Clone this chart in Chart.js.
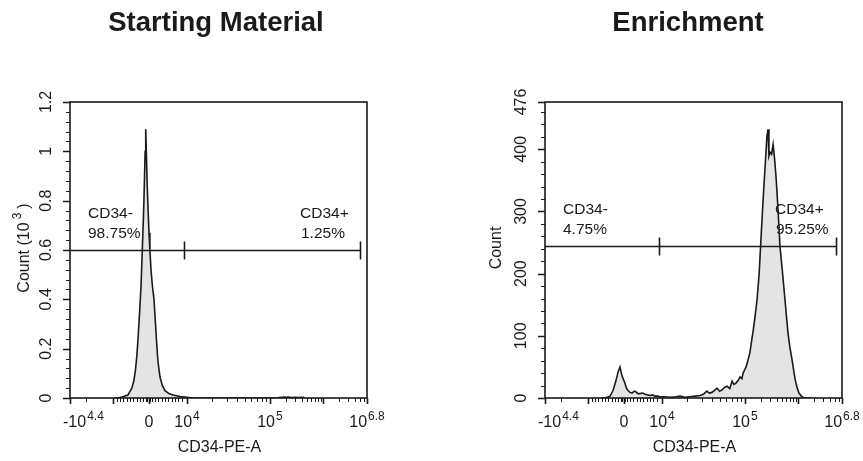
<!DOCTYPE html>
<html><head><meta charset="utf-8">
<script src="https://cdn.jsdelivr.net/npm/chart.js@4.4.0/dist/chart.umd.min.js"></script>
<style>
html,body{margin:0;padding:0;background:#fff;}
#wrap{position:relative;width:863px;height:461px;overflow:hidden;background:#fff;}
canvas{position:absolute;top:0;}
</style></head><body>
<div id="wrap">
<canvas id="c1" width="431" height="461" style="left:0"></canvas>
<canvas id="c2" width="432" height="461" style="left:431px"></canvas>
</div>
<script>
// ---------------- data (x in display channels 0..1000 of the biexponential CD34-PE-A axis) -------------
const startChannel = [150,161,175,195,208,215,220,225,229,234,239,244,248,251,253,255,257.6,260,263,266,269,272.7,277.8,282.8,287.9,292,296,303,311,320,333,347,370,394,411,700,707,712,720,728,735,745,760,770,785,790];
const startCount   = [0,0,0.004,0.012,0.04,0.07,0.11,0.17,0.24,0.34,0.45,0.62,0.76,0.9,1.0,1.09,0.97,0.86,0.76,0.67,0.6,0.52,0.45,0.4,0.3,0.22,0.15,0.085,0.05,0.03,0.018,0.012,0.006,0.003,0,0,0.003,0.002,0.004,0.003,0.004,0.002,0.003,0.002,0.003,0];

const enrichChannel = [190,202,219,229,239,246,252.5,259,264,269,274,279.5,286,293,300,306,313,320,328,337,345,354,362,370,380,387,400,421,440,455,470,488,505,522,533,545,553,562,570,579,588,596,604,613,622,630,636,643,650,657,663,667,672,677,684,690,695,700,707,714,721,726,731,737,744,747,751,754,758,763,768,773,778,785,791,800,808,818,825,832,842,848,855,865,875,900];
const enrichCount   = [0,0,3,12,28,42,50,36,30,24,16,12,9,8,11,10,7,7,8,6,5,4,5,3,3,2,2,1,2,3,1,2,3,4,6,11,8,9,12,16,11,13,17,19,15,27,22,24,28,34,31,40,45,50,62,73,90,105,130,158,200,245,290,340,395,420,432,389,395,392,408,385,355,300,245,200,158,105,80,61,30,18,8,2,0,0];

// tick positions (display channels) and labels
const xMajorTicks = [0,145,266,394,673,852,1000];
const xTickBase   = ['-10','','0','10','10','','10'];
const xTickExp    = ['4.4','','','4','5','','6.8'];
const xMinorTicks = [54,157,168,180,191,202,213,225,236,245,256,260,269,275,286,297,309,320,331,342,354,365,376,478,527,562,589,611,630,646,660,727,758,781,798,812,824,835,844,906,937,960,977,991];

const startYTicks = [0,0.2,0.4,0.6,0.8,1,1.2];
const startYLabels = ['0','0.2','0.4','0.6','0.8','1','1.2'];
const enrichYTicks = [0,100,200,300,400,476];
const enrichYLabels = ['0','100','200','300','400','476'];

// gates
const startGateX = [0,384,976];
const startGateY = [0.6];
const enrichGateX = [0,384,980];
const enrichGateY = [245];
const gateNegLabels = ['CD34-'];
const startPct = ['98.75%','1.25%'];
const enrichPct = ['4.75%','95.25%'];
const gatePosLabels = ['CD34+'];

const titles = ['Starting Material','Enrichment'];
const xTitle = 'CD34-PE-A';

const FONT = '"Liberation Sans", Arial, sans-serif';
const INK = '#1a1a1a';

function supText(ctx, base, exp, x, y, align){
  ctx.font = '16px ' + FONT;
  const wb = ctx.measureText(base).width;
  ctx.font = '12px ' + FONT;
  const we = exp ? ctx.measureText(exp).width + 1 : 0;
  const tot = wb + we;
  let sx = align === 'left' ? x : x - tot/2;
  ctx.textAlign = 'left'; ctx.textBaseline = 'alphabetic';
  ctx.font = '16px ' + FONT;
  ctx.fillText(base, sx, y);
  if (exp){ ctx.font = '12px ' + FONT; ctx.fillText(exp, sx + wb + 1, y - 7); }
}

function overlay(o){
  return {
    id: 'overlay',
    afterDatasetsDraw(chart){
      const ctx = chart.ctx, xs = chart.scales.x, ys = chart.scales.y, a = chart.chartArea;
      ctx.save();
      ctx.strokeStyle = INK; ctx.fillStyle = INK; ctx.lineWidth = 1.6;
      // box
      ctx.strokeRect(a.left, a.top, a.right - a.left, a.bottom - a.top);
      // x ticks
      ctx.beginPath();
      xMajorTicks.forEach(v => { const p = Math.round(xs.getPixelForValue(v)) + 0.5; ctx.moveTo(p, a.bottom); ctx.lineTo(p, a.bottom + 6); });
      ctx.stroke();
      ctx.lineWidth = 1;
      ctx.beginPath();
      xMinorTicks.forEach(v => { const p = Math.round(xs.getPixelForValue(v)) + 0.5; ctx.moveTo(p, a.bottom); ctx.lineTo(p, a.bottom + 4); });
      ctx.stroke();
      // y ticks
      ctx.lineWidth = 1.5;
      ctx.beginPath();
      o.yTicks.forEach(v => { const p = Math.round(ys.getPixelForValue(v)) + 0.5; ctx.moveTo(a.left, p); ctx.lineTo(a.left - 7, p); });
      ctx.stroke();
      ctx.lineWidth = 1;
      ctx.beginPath();
      for (let v = o.yMinor; v < o.yMax - 1e-9; v += o.yMinor){
        if (o.yTicks.some(t => Math.abs(t - v) < 1e-6)) continue;
        const p = Math.round(ys.getPixelForValue(v)) + 0.5; ctx.moveTo(a.left, p); ctx.lineTo(a.left - 4, p);
      }
      ctx.stroke();
      // x tick labels
      xMajorTicks.forEach((v, i) => {
        if (!xTickBase[i]) return;
        const p = xs.getPixelForValue(v);
        if (i === 0) supText(ctx, xTickBase[i], xTickExp[i], p - 7, a.bottom + 29, 'left');
        else supText(ctx, xTickBase[i], xTickExp[i], p, a.bottom + 29, 'center');
      });
      // y tick labels (rotated)
      ctx.font = '16px ' + FONT;
      o.yTicks.forEach((v, i) => {
        const p = ys.getPixelForValue(v);
        ctx.save(); ctx.translate(a.left - 23, p); ctx.rotate(-Math.PI/2);
        ctx.textAlign = 'center'; ctx.textBaseline = 'middle';
        ctx.fillText(o.yLabels[i], 0, 0); ctx.restore();
      });
      // gate
      const gy = Math.round(ys.getPixelForValue(o.gateY[0])) + 0.5;
      const gx = o.gateX.map(v => xs.getPixelForValue(v));
      ctx.lineWidth = 1.6;
      ctx.beginPath();
      ctx.moveTo(gx[0], gy); ctx.lineTo(gx[2], gy);
      ctx.moveTo(Math.round(gx[1]) + 0.5, gy - 9); ctx.lineTo(Math.round(gx[1]) + 0.5, gy + 9);
      ctx.moveTo(Math.round(gx[2]) + 0.5, gy - 9); ctx.lineTo(Math.round(gx[2]) + 0.5, gy + 9);
      ctx.stroke();
      // gate labels
      ctx.font = '15.5px ' + FONT; ctx.textAlign = 'left'; ctx.textBaseline = 'alphabetic';
      ctx.fillText(gateNegLabels[0], o.negLabelX, gy - 33);
      ctx.fillText(o.pct[0], o.negLabelX, gy - 13);
      ctx.fillText(gatePosLabels[0], o.posLabelX, gy - 33);
      ctx.fillText(o.pct[1], o.posLabelX + 1, gy - 13);
      // axis titles
      ctx.font = '16px ' + FONT; ctx.textAlign = 'center'; ctx.textBaseline = 'middle';
      ctx.fillText(xTitle, (a.left + a.right)/2 + 1, a.bottom + 50);
      ctx.save(); ctx.translate(o.yTitleX, (a.top + a.bottom)/2 - 2); ctx.rotate(-Math.PI/2);
      if (o.yTitleSup){
        ctx.font = '16px ' + FONT;
        const w1 = ctx.measureText('Count (10').width;
        ctx.font = '12px ' + FONT;
        const w2 = ctx.measureText('3').width;
        ctx.font = '16px ' + FONT;
        const w3 = ctx.measureText(')').width;
        const tot = w1 + w2 + w3 + 7;
        ctx.textAlign = 'left'; ctx.textBaseline = 'alphabetic';
        let sx = -tot/2;
        ctx.fillText('Count (10', sx, 6);
        ctx.font = '12px ' + FONT; ctx.fillText('3', sx + w1 + 3, -2);
        ctx.font = '16px ' + FONT; ctx.fillText(')', sx + w1 + w2 + 7, 6);
      } else {
        ctx.fillText(o.yTitle, 0, 0);
      }
      ctx.restore();
      // chart title
      ctx.font = 'bold 27.5px ' + FONT; ctx.textAlign = 'center'; ctx.textBaseline = 'alphabetic';
      ctx.fillText(o.title, o.titleX, 31);
      ctx.restore();
    }
  };
}

function makeChart(id, xsArr, ysArr, o){
  const pts = xsArr.map((x, i) => ({x: x, y: ysArr[i]}));
  return new Chart(document.getElementById(id), {
    type: 'line',
    data: { datasets: [{ data: pts, borderColor: INK, borderWidth: 1.6, backgroundColor: '#e4e4e4', fill: 'origin', pointRadius: 0, tension: 0 }] },
    options: {
      responsive: false, animation: false, devicePixelRatio: 1,
      layout: { padding: { left: o.padL, right: o.padR, top: 102, bottom: 63 } },
      plugins: { legend: { display: false }, tooltip: { enabled: false }, title: { display: false } },
      scales: {
        x: { type: 'linear', min: 0, max: 1000, display: false },
        y: { type: 'linear', min: 0, max: o.yMax, display: false }
      }
    },
    plugins: [overlay(o)]
  });
}

makeChart('c1', startChannel, startCount, {
  padL: 70, padR: 64, yMax: 1.2, yMinor: 0.04, yTicks: startYTicks, yLabels: startYLabels,
  gateX: startGateX, gateY: startGateY, pct: startPct, negLabelX: 88, posLabelX: 300,
  yTitleX: 23, yTitleSup: true, title: titles[0], titleX: 216
});
makeChart('c2', enrichChannel, enrichCount, {
  padL: 114, padR: 21, yMax: 476, yMinor: 20, yTicks: enrichYTicks, yLabels: enrichYLabels,
  gateX: enrichGateX, gateY: enrichGateY, pct: enrichPct, negLabelX: 132, posLabelX: 344,
  yTitleX: 66, yTitleSup: false, yTitle: 'Count', title: titles[1], titleX: 257
});
</script>
</body></html>
